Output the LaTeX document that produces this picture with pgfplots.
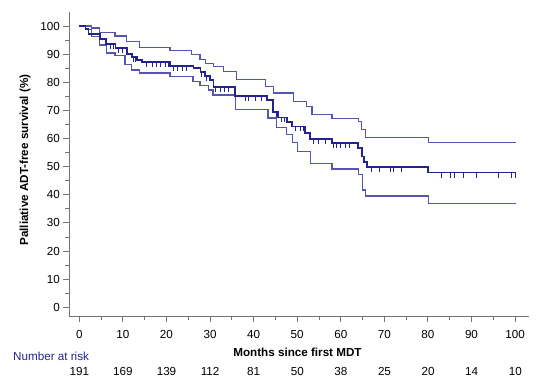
\documentclass[border=0pt]{standalone}
\usepackage{fontspec}
\setmainfont{Liberation Sans}
\usepackage{pgfplots}
\pgfplotsset{compat=1.18}
\definecolor{kmmain}{RGB}{35,35,145}
\definecolor{kmci}{RGB}{85,85,178}
\definecolor{axgray}{RGB}{115,115,115}
\pgfdeclareplotmark{cens}{\pgfpathmoveto{\pgfpoint{0pt}{0pt}}\pgfpathlineto{\pgfpoint{0pt}{-5bp}}\pgfusepathqstroke}
\begin{document}
\begin{tikzpicture}
\useasboundingbox (0,0) rectangle (550bp,-390bp);
\begin{axis}[
 at={(69.3bp,-316bp)}, anchor=south west,
 scale only axis, width=459.7bp, height=304bp,
 xmin=-2.3, xmax=103.2, ymin=-3.1, ymax=105,
 axis x line*=bottom, axis y line*=left,
 axis line style={axgray, line width=0.9bp, -},
 xtick={0,10,...,100}, ytick={0,10,...,100},
 minor xtick={5,15,...,95}, minor ytick={5,15,...,95},
 tick align=outside,
 major tick length=6bp, minor tick length=4bp,
 tick style={axgray, line width=0.9bp},
 ticklabel style={font=\fontsize{11.7}{13}\selectfont, text=black},
 xticklabel style={yshift=-4.5bp},
 /pgf/number format/assume math mode=true,
 clip=false,
]
% upper confidence limit
\addplot[kmci, line width=1.2bp, const plot] coordinates {
(0,100) (2.8,99.3) (4.7,97.6) (8.2,96.5) (10.9,94.5) (13.9,92.3) (20.8,91.2)
(25.8,89.9) (27.7,88.0) (28.9,86.8) (30.8,85.6) (33.0,83.8) (36.0,81.0)
(42.7,78.5) (44.6,76.2) (49.2,73.2) (52.2,71.4) (53.4,68.6) (58.0,67.2)
(64.1,66.0) (64.8,63.1) (65.6,60.5) (80.1,58.6) (100.2,58.6)};
% lower confidence limit
\addplot[kmci, line width=1.2bp, const plot] coordinates {
(0,100) (1.4,98.7) (2.8,96.3) (4.7,93.3) (6.3,90.4) (8.2,89.4) (10.5,86.2)
(12.0,84.4) (13.9,83.3) (20.8,82.1) (26.1,80.3) (27.7,78.8) (29.6,77.3)
(30.7,75.5) (35.8,70.3) (43.3,67.3) (45.3,64.0) (47.6,61.5) (49.0,58.5)
(50.0,55.4) (53.0,51.2) (58.0,49.2) (64.1,47.1) (64.9,41.7) (65.6,39.6)
(80.1,36.8) (100.2,36.8)};
% survival estimate
\addplot[kmmain, line width=1.8bp, const plot] coordinates {
(0,100) (1.4,99.0) (2.1,97.2) (4.8,95.4) (6.2,93.6) (8.3,92.2) (10.9,90.0)
(12.1,89.0) (13.2,88.0) (14.4,87.3) (20.9,85.9) (26.2,85.0) (27.8,83.8)
(28.9,82.3) (30.0,80.9) (30.8,78.3) (35.8,75.0) (43.0,73.8) (44.5,69.5)
(45.6,67.5) (47.6,66.0) (48.8,64.3) (51.8,62.0) (53.0,59.8) (58.0,58.4)
(64.0,56.6) (64.8,53.6) (65.4,51.8) (66.0,50.0) (80.1,47.9) (100.2,47.9)};
% censoring marks
\addplot[kmmain, only marks, mark=cens, mark options={line width=1bp}] coordinates {
(7.1,93.6) (7.9,93.6) (9.0,92.2) (10.0,92.2) (12.5,89.0) (12.9,89.0)
(15.5,87.3) (16.7,87.3) (17.7,87.3) (18.6,87.3) (19.7,87.3) (20.5,87.3)
(21.6,85.9) (22.5,85.9) (23.6,85.9) (24.5,85.9) (28.1,83.8) (29.1,82.3)
(31.2,78.3) (32.3,78.3) (33.3,78.3) (34.2,78.3)
(38.1,75.0) (38.8,75.0) (40.4,75.0) (41.9,75.0)
(45.3,69.5) (46.5,67.5) (47.2,67.5) (49.5,64.3) (50.7,64.3) (51.5,64.3)
(53.7,59.8) (54.9,59.8) (56.4,59.8)
(58.3,58.4) (59.1,58.4) (60.0,58.4) (61.0,58.4) (62.0,58.4)
(67.1,50.0) (69.0,50.0) (71.3,50.0) (72.1,50.0) (74.0,50.0)
(83.2,47.9) (85.1,47.9) (86.0,47.9) (88.1,47.9) (91.1,47.9) (96.3,47.9)
(99.2,47.9) (100.2,47.9)};
\end{axis}
\node[font=\bfseries\fontsize{11.7}{13}\selectfont, rotate=90, anchor=base] at (28bp,-160bp) {Palliative ADT-free survival (\%)};
\node[font=\bfseries\fontsize{11.7}{13}\selectfont, inner sep=0] at (297.5bp,-352.5bp) {Months since first MDT};
\node[font=\fontsize{11.7}{13}\selectfont, text=kmmain, anchor=west, inner sep=0] at (13bp,-356bp) {Number at risk};
\foreach \m/\n in {0/191,10/169,20/139,30/112,40/81,50/50,60/38,70/25,80/20,90/14,100/10}
  \node[font=\fontsize{11.7}{13}\selectfont, inner sep=0] at ({(79.3+4.36*\m)*1bp},-371.5bp) {\n};
\end{tikzpicture}
\end{document}
